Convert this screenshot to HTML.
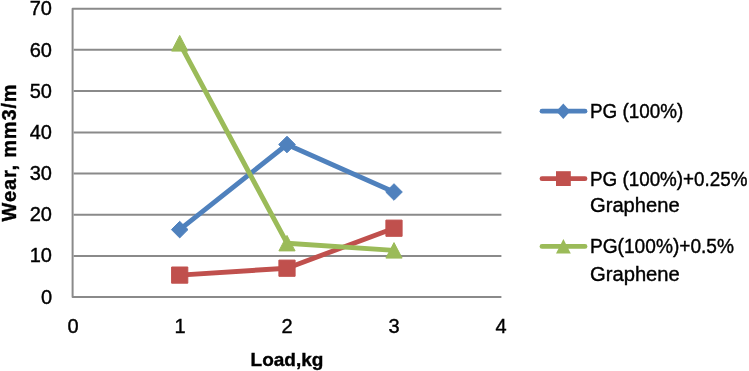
<!DOCTYPE html>
<html><head><meta charset="utf-8">
<style>
html,body{margin:0;padding:0;}
body{width:749px;height:371px;overflow:hidden;}
svg{display:block;}
#w{position:absolute;left:0;top:0;will-change:transform;}
text{font-family:"Liberation Sans",sans-serif;fill:#000;stroke:#000;stroke-width:0.4px;}
</style></head>
<body>
<div id="w"><svg width="749" height="371" viewBox="0 0 749 371">
<!-- gridlines -->
<g stroke="#8a8a8a" stroke-width="2" fill="none">
<line x1="73.6" y1="49.85" x2="501.4" y2="49.85"/>
<line x1="73.6" y1="91.06" x2="501.4" y2="91.06"/>
<line x1="73.6" y1="132.4" x2="501.4" y2="132.4"/>
<line x1="73.6" y1="173.6" x2="501.4" y2="173.6"/>
<line x1="73.6" y1="214.75" x2="501.4" y2="214.75"/>
<line x1="73.6" y1="255.95" x2="501.4" y2="255.95"/>
<path d="M501.4,8.64 H72.6 V297.1 H501.4" stroke-linejoin="round"/>
</g>
<!-- y labels -->
<g font-size="20" text-anchor="end">
<text x="52" y="15.3">70</text>
<text x="52" y="56.5">60</text>
<text x="52" y="97.7">50</text>
<text x="52" y="138.9">40</text>
<text x="52" y="180.1">30</text>
<text x="52" y="221.2">20</text>
<text x="52" y="262.4">10</text>
<text x="52" y="303.6">0</text>
</g>
<!-- x labels -->
<g font-size="20" text-anchor="middle">
<text x="73" y="332.8">0</text>
<text x="180" y="332.8">1</text>
<text x="287" y="332.8">2</text>
<text x="394" y="332.8">3</text>
<text x="501" y="332.8">4</text>
</g>
<!-- axis titles -->
<text x="287" y="366.2" font-size="19" font-weight="bold" text-anchor="middle">Load,kg</text>
<text transform="translate(16.3,152.9) rotate(-90)" font-size="20" font-weight="bold" text-anchor="middle" textLength="137" lengthAdjust="spacing">Wear, mm3/m</text>
<!-- series lines -->
<g fill="none" stroke-width="4.9" stroke-linejoin="round" stroke-linecap="round">
<polyline stroke="#4f81bd" points="179.7,229.6 287,144.5 394,192"/>
<polyline stroke="#c0504d" points="179.7,275.1 287,268.2 394,228.2"/>
<polyline stroke="#9bbb59" points="179.7,43.3 287,243.2 394,250.4"/>
</g>
<!-- markers -->
<g fill="#4f81bd" stroke="#4f81bd" stroke-width="1" stroke-linejoin="round">
<polygon points="179.7,221.30 188.00,229.6 179.7,237.90 171.40,229.6"/>
<polygon points="287,136.20 295.30,144.5 287,152.80 278.70,144.5"/>
<polygon points="394,183.70 402.30,192 394,200.30 385.70,192"/>
</g>
<g fill="#c0504d" stroke="#c0504d" stroke-width="1" stroke-linejoin="round">
<rect x="171.60" y="267.00" width="16.20" height="16.20"/>
<rect x="278.90" y="260.10" width="16.20" height="16.20"/>
<rect x="385.90" y="220.10" width="16.20" height="16.20"/>
</g>
<g fill="#9bbb59" stroke="#9bbb59" stroke-width="1" stroke-linejoin="round">
<polygon points="179.7,35.40 187.80,51.10 171.60,51.10"/>
<polygon points="287,235.40 295.10,250.90 278.90,250.90"/>
<polygon points="394,242.60 402.10,258.10 385.90,258.10"/>
</g>
<!-- legend -->
<g stroke-width="4.8" stroke-linecap="round">
<line x1="542" y1="111.2" x2="585" y2="111.2" stroke="#4f81bd"/>
<line x1="542" y1="178.7" x2="585" y2="178.7" stroke="#c0504d"/>
<line x1="542" y1="246.4" x2="585" y2="246.4" stroke="#9bbb59"/>
</g>
<polygon fill="#4f81bd" points="563.3,103.6 570.3,111.3 563.3,119 556.3,111.3"/>
<rect fill="#c0504d" x="556" y="171.2" width="14.8" height="14.8"/>
<polygon fill="#9bbb59" points="563.4,239 570.8,253.6 556,253.6"/>
<g font-size="19.5">
<text x="590" y="118" textLength="93.2" lengthAdjust="spacingAndGlyphs">PG (100%)</text>
<text x="590" y="185.6" textLength="157.5" lengthAdjust="spacingAndGlyphs">PG (100%)+0.25%</text>
<text x="590" y="212.4" textLength="89.6" lengthAdjust="spacingAndGlyphs">Graphene</text>
<text x="590" y="253.2" textLength="144" lengthAdjust="spacingAndGlyphs">PG(100%)+0.5%</text>
<text x="590" y="280.6" textLength="89.8" lengthAdjust="spacingAndGlyphs">Graphene</text>
</g>
</svg></div>
</body></html>
